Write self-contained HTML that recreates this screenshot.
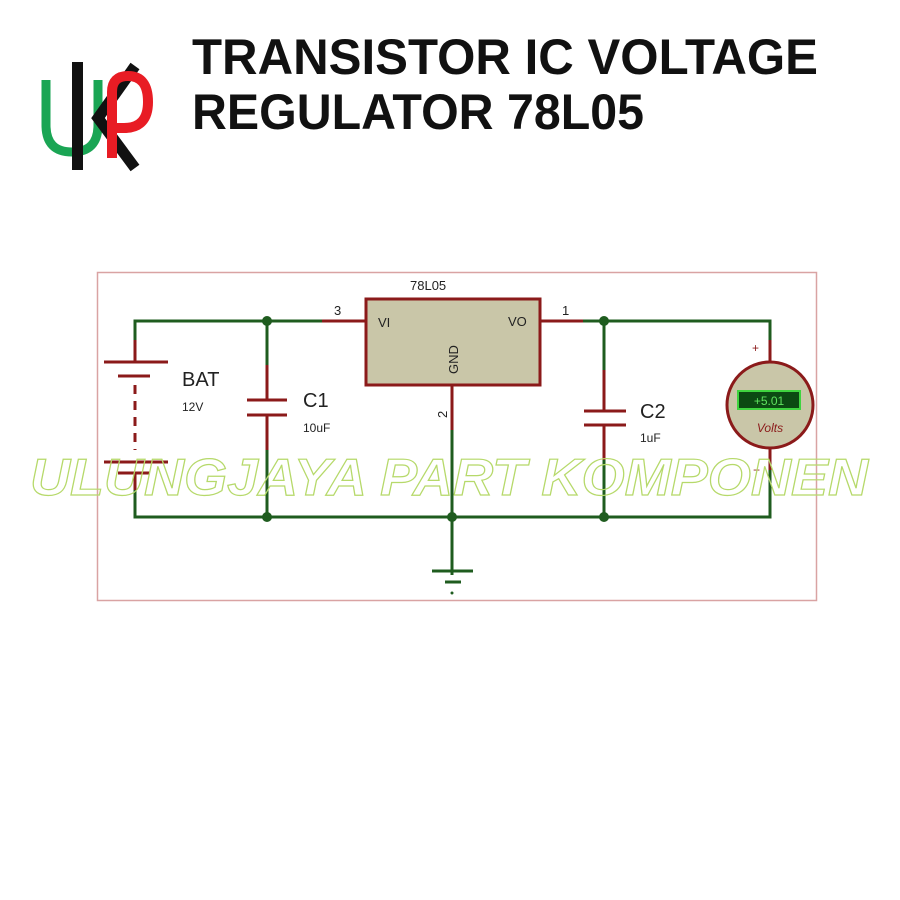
<!DOCTYPE html>
<html><head><style>html,body{margin:0;padding:0;background:#fff}svg{display:block}</style></head><body>
<svg width="900" height="900" viewBox="0 0 900 900" xmlns="http://www.w3.org/2000/svg" font-family="Liberation Sans, Arial, sans-serif">
<rect width="900" height="900" fill="#fff"/>
<!-- logo -->
<path d="M46 80 V125 Q46 152 72 152 Q98 152 98 125 V80" fill="none" stroke="#1aa554" stroke-width="9"/>
<rect x="72" y="62" width="11" height="108" fill="#111"/>
<path d="M135 66 L98 118 L135 168" fill="none" stroke="#111" stroke-width="11"/>
<path d="M112 158 V92 Q112 76 128 76 Q148 76 148 102 Q148 128 124 128 H112" fill="none" stroke="#e81c24" stroke-width="10"/>
<!-- title -->
<text x="192" y="74" font-size="50" font-weight="bold" textLength="626" lengthAdjust="spacingAndGlyphs" fill="#111">TRANSISTOR IC VOLTAGE</text>
<text x="192" y="129" font-size="50" font-weight="bold" textLength="452" lengthAdjust="spacingAndGlyphs" fill="#111">REGULATOR 78L05</text>
<!-- frame -->
<rect x="97.5" y="272.5" width="719" height="328" fill="none" stroke="#d9a3a3" stroke-width="1.5"/>
<g stroke-width="3" fill="none">
<g stroke="#1f5c1f">
<path d="M135 340 V321 H322"/>
<path d="M583 321 H770 V340"/>
<path d="M135 490 V517 H770 V450"/>
<path d="M267 321 V365 M267 450 V517"/>
<path d="M604 321 V370 M604 460 V517"/>
<path d="M452 430 V575"/>
<path d="M432 571 H473"/>
<path d="M445 582 H461"/>
</g>
<g stroke="#8b1a1a">
<path d="M322 321 H365 M540 321 H583"/>
<path d="M135 340 V362 M104 362 H168 M118 376 H150"/>
<path d="M135 385 V450" stroke-dasharray="9 7"/>
<path d="M104 462 H168 M118 473 H150 M135 473 V490"/>
<path d="M267 365 V400 M247 400 H287 M247 415 H287 M267 415 V450"/>
<path d="M604 370 V411 M584 411 H626 M584 425 H626 M604 425 V460"/>
<path d="M452 386 V430"/>
<path d="M770 340 V362 M770 448 V470"/>
</g>
</g>
<circle cx="452" cy="593" r="1.5" fill="#1f5c1f"/>
<g fill="#1f5c1f"><circle cx="267" cy="321" r="5"/><circle cx="604" cy="321" r="5"/><circle cx="267" cy="517" r="5"/><circle cx="452" cy="517" r="5"/><circle cx="604" cy="517" r="5"/></g>
<!-- IC -->
<rect x="366" y="299" width="174" height="86" fill="#c9c6a8" stroke="#8b1a1a" stroke-width="3"/>
<text x="410" y="290" font-size="13" fill="#222">78L05</text>
<text x="378" y="327" font-size="13" fill="#222">VI</text>
<text x="508" y="326" font-size="13" fill="#222">VO</text>
<text x="458" y="374" font-size="13" fill="#222" transform="rotate(-90 458 374)">GND</text>
<text x="334" y="315" font-size="13" fill="#222">3</text>
<text x="562" y="315" font-size="13" fill="#222">1</text>
<text x="447" y="418" font-size="13" fill="#222" transform="rotate(-90 447 418)">2</text>
<text x="182" y="386" font-size="20" fill="#222">BAT</text>
<text x="182" y="411" font-size="12" fill="#222">12V</text>
<text x="303" y="407" font-size="20" fill="#222">C1</text>
<text x="303" y="432" font-size="12" fill="#222">10uF</text>
<text x="640" y="418" font-size="20" fill="#222">C2</text>
<text x="640" y="442" font-size="12" fill="#222">1uF</text>
<!-- meter -->
<circle cx="770" cy="405" r="43" fill="#c9c6a8" stroke="#8b1a1a" stroke-width="3"/>
<rect x="738" y="391" width="62" height="18" fill="#0b4a12" stroke="#3fd43f" stroke-width="2"/>
<text x="769" y="405" font-size="12" fill="#5fe35f" text-anchor="middle">+5.01</text>
<text x="770" y="432" font-size="12" font-style="italic" fill="#8b1a1a" text-anchor="middle">Volts</text>
<text x="752" y="352" font-size="12" fill="#8b1a1a">+</text>
<text x="753" y="474" font-size="12" fill="#8b1a1a">−</text>
<!-- watermark -->
<text x="30" y="495" font-size="52" font-weight="bold" font-style="italic" fill="none" stroke="#b6d96a" stroke-width="1.2" textLength="838" lengthAdjust="spacingAndGlyphs">ULUNGJAYA PART KOMPONEN</text>
</svg>
</body></html>
